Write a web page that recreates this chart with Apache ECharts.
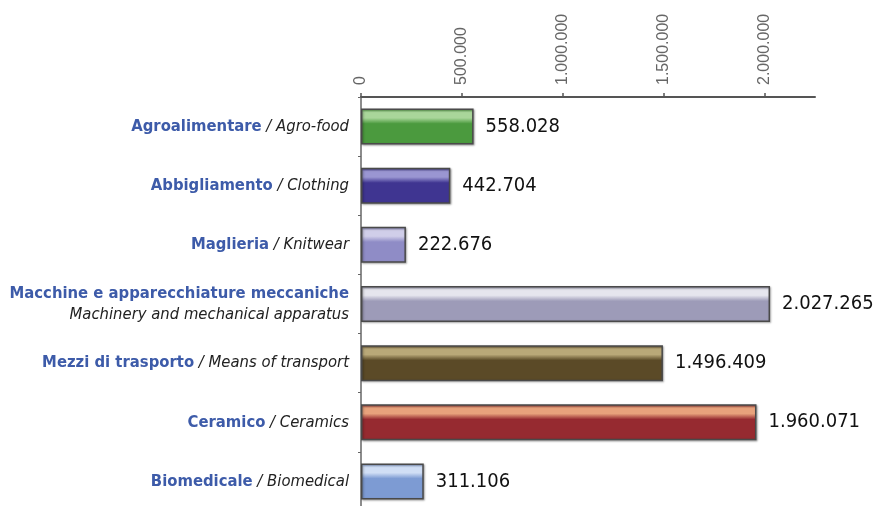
<!DOCTYPE html>
<html>
<head>
<meta charset="utf-8">
<script src="https://cdn.jsdelivr.net/npm/echarts@6/dist/echarts.min.js"></script>
<style>
html, body { margin: 0; padding: 0; background: #fff; }
#barChart { width: 876px; height: 506px; }
</style>
</head>
<body>
<div id="barChart"></div>
<script>
// data
var sectorsIt = ['Agroalimentare', 'Abbigliamento', 'Maglieria', 'Macchine e apparecchiature meccaniche',
    'Mezzi di trasporto', 'Ceramico', 'Biomedicale'];
var sectorsEn = ['Agro-food', 'Clothing', 'Knitwear', 'Machinery and mechanical apparatus',
    'Means of transport', 'Ceramics', 'Biomedical'];
var values = [558028, 442704, 222676, 2027265, 1496409, 1960071, 311106];
var tickValues = [0, 500000, 1000000, 1500000, 2000000];

var barColors = ['#4b9a3e', '#3f3591', '#8f8cc6', '#9d9bb8', '#5b4a27', '#962a30', '#7d9bd3'];
var barLights = ['#a9d69a', '#9a96d2', '#d0cee9', '#e6e6ee', '#b9a878', '#e8a27c', '#d0def5'];

var narrow = "'DejaVu Sans Condensed', 'Liberation Sans', sans-serif";

function fmt(v) {
    return String(v).replace(/\B(?=(\d{3})+(?!\d))/g, '.');
}

function bar(i) {
    return {
        type: 'linear', x: 0, y: 0, x2: 0, y2: 1,
        colorStops: [
            {offset: 0, color: barColors[i]},
            {offset: 0.1, color: barLights[i]},
            {offset: 0.26, color: barLights[i]},
            {offset: 0.42, color: barColors[i]},
            {offset: 1, color: barColors[i]}
        ]
    };
}

var dom = document.getElementById('barChart');
var myChart = echarts.init(dom);
var option = {
    animation: false,
    grid: {left: 361, right: 61, top: 97, bottom: -5, containLabel: false, outerBoundsMode: 'none'},
    xAxis: {
        type: 'value',
        position: 'top',
        min: 0,
        max: 2250000,
        interval: 250000,
        axisLine: {show: true, lineStyle: {color: '#555', width: 2}},
        axisTick: {show: true, length: 4, customValues: tickValues, lineStyle: {color: '#555', width: 1.5}},
        splitLine: {show: false},
        axisLabel: {
            customValues: tickValues,
            rotate: -90,
            margin: 12,
            color: '#666',
            fontFamily: "'Liberation Sans', sans-serif",
            fontSize: 16,
            formatter: function (v) { return fmt(v); }
        }
    },
    yAxis: {
        type: 'category',
        inverse: true,
        data: sectorsIt,
        axisLine: {show: true, lineStyle: {color: '#666', width: 1.5}},
        axisTick: {show: true, length: 3, lineStyle: {color: '#666'}},
        axisLabel: {
            margin: 12,
            align: 'right',
            formatter: function (v, idx) {
                if (sectorsIt[idx].length > 30) {
                    return '{b|' + sectorsIt[idx] + '}\n{i|' + sectorsEn[idx] + '}';
                }
                return '{b|' + sectorsIt[idx] + '}{i|\u00a0/ ' + sectorsEn[idx] + '}';
            },
            rich: {
                b: {
                    fontFamily: narrow,
                    fontWeight: 'bold',
                    fontSize: 16.5,
                    color: '#3d5ba9',
                    lineHeight: 21,
                    align: 'right'
                },
                i: {
                    fontFamily: narrow,
                    fontStyle: 'italic',
                    fontSize: 16.5,
                    color: '#222',
                    lineHeight: 21,
                    align: 'right'
                }
            }
        }
    },
    series: [{
        type: 'bar',
        barWidth: 36,
        data: values.map(function (v, i) {
            return {value: v, itemStyle: {color: bar(i)}};
        }),
        itemStyle: {
            borderColor: '#4a4a4a',
            borderWidth: 1.5,
            shadowColor: 'rgba(0,0,0,0.3)',
            shadowBlur: 2,
            shadowOffsetX: 1,
            shadowOffsetY: 1
        },
        label: {
            show: true,
            position: 'right',
            distance: 12,
            color: '#111',
            fontFamily: narrow,
            fontSize: 20,
            formatter: function (p) { return fmt(p.value); }
        }
    }]
};
myChart.setOption(option);
</script>
</body>
</html>
